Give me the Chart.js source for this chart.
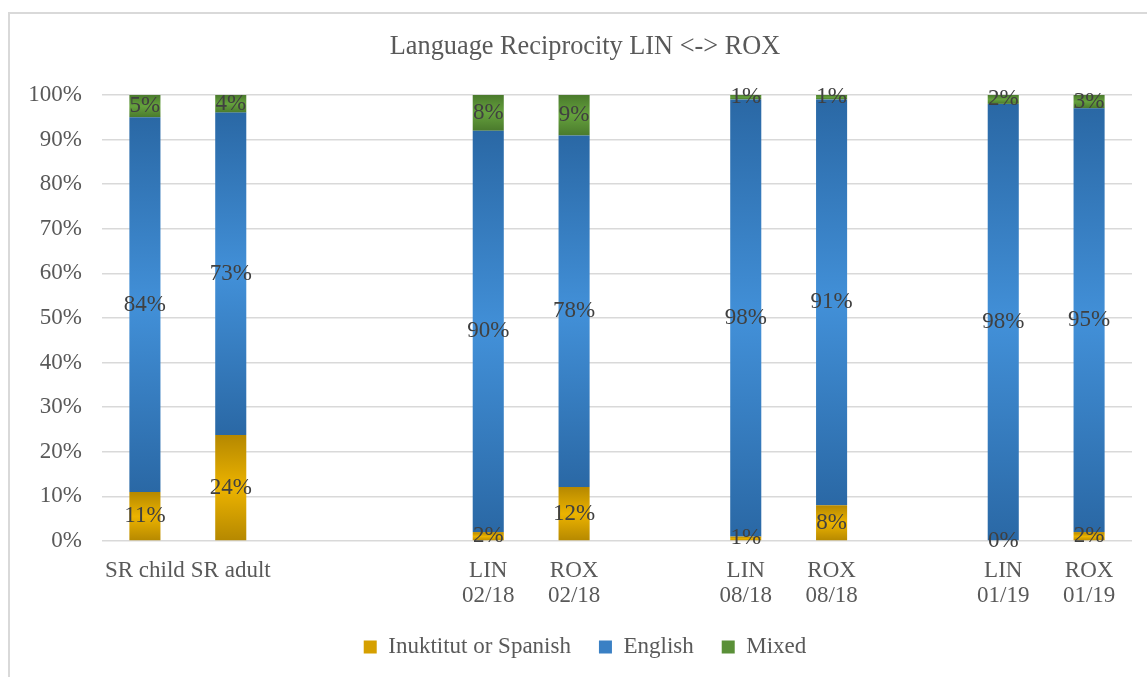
<!DOCTYPE html>
<html>
<head>
<meta charset="utf-8">
<script src="https://cdn.jsdelivr.net/npm/chart.js@4"></script>
<style>
  html, body { margin: 0; padding: 0; overflow: hidden; background: #ffffff; }
  #wrap { position: absolute; left: 0; top: 0; width: 1170px; height: 690px; }
</style>
</head>
<body>
<div id="wrap"><canvas id="chart" width="1170" height="690"></canvas></div>
<script>
// Categories (blank slots separate the survey rounds)
const categories = [
  'SR child', 'SR adult', '', '',
  ['LIN', '02/18'], ['ROX', '02/18'], '',
  ['LIN', '08/18'], ['ROX', '08/18'], '',
  ['LIN', '01/19'], ['ROX', '01/19']
];

// Reported percentages per language
const inuktitutSpanish = [11, 24, null, null, 2, 12, null, 1, 8, null, 0, 2];
const english          = [84, 73, null, null, 90, 78, null, 98, 91, null, 98, 95];
const mixed            = [5, 4, null, null, 8, 9, null, 1, 1, null, 2, 3];

const seriesNames = ['Inuktitut or Spanish', 'English', 'Mixed'];
const yTickValues = [0, 10, 20, 30, 40, 50, 60, 70, 80, 90, 100];

const FONT = "'Liberation Serif', 'Times New Roman', serif";

// 100% stacked: each column is scaled to its own total
const raw = [inuktitutSpanish, english, mixed];
const totals = categories.map((_, j) =>
  raw.reduce((s, arr) => s + (arr[j] == null ? 0 : arr[j]), 0));
const shares = raw.map(arr => arr.map((v, j) =>
  v == null || totals[j] === 0 ? null : v / totals[j] * 100));

const palettes = [
  { edge: '#b58800', mid: '#ecb300', legend: '#d6a000' },
  { edge: '#2a68a5', mid: '#4290d8', legend: '#3a80c4' },
  { edge: '#4a7a2c', mid: '#65a13d', legend: '#5a9038' }
];

// Vertical shading per segment: darker edges, lighter middle
function segmentFill(dsIndex) {
  const pal = palettes[dsIndex];
  return (ctx) => {
    if (ctx.type !== 'data') return pal.mid;
    const chart = ctx.chart;
    const y = chart.scales && chart.scales.y;
    if (!y || !chart.chartArea) return pal.mid;
    const j = ctx.dataIndex;
    const v = shares[dsIndex][j];
    if (v == null) return pal.mid;
    let start = 0;
    for (let k = 0; k < dsIndex; k++) start += shares[k][j] || 0;
    const top = y.getPixelForValue(start + v);
    const bot = y.getPixelForValue(start);
    if (!isFinite(top) || !isFinite(bot) || bot - top < 1) return pal.mid;
    const g = chart.ctx.createLinearGradient(0, top, 0, bot);
    g.addColorStop(0, pal.edge);
    g.addColorStop(0.5, pal.mid);
    g.addColorStop(1, pal.edge);
    return g;
  };
}

// Frame around the whole chart and a white background
const framePlugin = {
  id: 'frame',
  beforeDraw(chart) {
    const c = chart.ctx;
    c.save();
    c.fillStyle = '#ffffff';
    c.fillRect(0, 0, chart.width, chart.height);
    c.strokeStyle = '#d9d9d9';
    c.lineWidth = 2;
    c.strokeRect(9, 13, 1152, 700);
    c.restore();
  }
};

// Value labels in the middle of each segment
const valueLabels = {
  id: 'valueLabels',
  afterDatasetsDraw(chart) {
    const c = chart.ctx;
    c.save();
    c.font = '23px ' + FONT;
    c.fillStyle = '#404040';
    c.textAlign = 'center';
    c.textBaseline = 'middle';
    chart.data.datasets.forEach((ds, i) => {
      const meta = chart.getDatasetMeta(i);
      meta.data.forEach((el, j) => {
        const v = raw[i][j];
        if (v == null) return;
        const { x, y, base } = el.getProps(['x', 'y', 'base'], true);
        c.fillText(v + '%', x, (y + base) / 2);
      });
    });
    c.restore();
  }
};

new Chart(document.getElementById('chart'), {
  type: 'bar',
  data: {
    labels: categories,
    datasets: seriesNames.map((name, i) => ({
      label: name,
      data: shares[i],
      backgroundColor: segmentFill(i),
      borderWidth: 0,
      categoryPercentage: 1,
      barPercentage: 0.362
    }))
  },
  options: {
    responsive: false,
    animation: false,
    devicePixelRatio: 1,
    layout: { padding: { left: 0, right: 0, top: 0, bottom: 21.5 } },
    plugins: {
      tooltip: { enabled: false },
      title: {
        display: true,
        text: 'Language Reciprocity LIN <-> ROX',
        color: '#595959',
        font: { family: FONT, size: 26.3, weight: 'normal', lineHeight: 1.2 },
        padding: { top: 31.2, bottom: 32.2 }
      },
      legend: {
        position: 'bottom',
        labels: {
          color: '#595959',
          font: { family: FONT, size: 23 },
          boxWidth: 13,
          boxHeight: 13,
          padding: 28,
          generateLabels(chart) {
            return chart.data.datasets.map((ds, i) => ({
              text: ds.label,
              fillStyle: palettes[i].legend,
              strokeStyle: palettes[i].legend,
              lineWidth: 0,
              hidden: false,
              datasetIndex: i,
              fontColor: '#595959'
            }));
          }
        }
      }
    },
    scales: {
      x: {
        stacked: true,
        grid: { display: false, drawTicks: false },
        border: { display: false },
        ticks: {
          color: '#595959',
          font: { family: FONT, size: 23, lineHeight: 1.1 },
          autoSkip: false,
          maxRotation: 0,
          minRotation: 0,
          padding: 17.5
        },
        afterFit(scale) { scale.height = 66.5; }
      },
      y: {
        stacked: true,
        min: 0,
        max: 100,
        afterBuildTicks(scale) {
          scale.ticks = yTickValues.map(v => ({ value: v }));
        },
        grid: { color: '#d9d9d9', lineWidth: 1.5, drawTicks: false },
        border: { display: false },
        ticks: {
          color: '#595959',
          font: { family: FONT, size: 23 },
          padding: 20,
          callback: v => v + '%'
        },
        afterFit(scale) { scale.width = 102; }
      },
      // empty right-hand margin of the plot area
      yRight: {
        type: 'linear',
        position: 'right',
        min: 0,
        max: 100,
        grid: { display: false, drawTicks: false },
        border: { display: false },
        ticks: { display: false },
        afterFit(scale) { scale.width = 38; }
      }
    }
  },
  plugins: [framePlugin, valueLabels]
});
</script>
</body>
</html>
